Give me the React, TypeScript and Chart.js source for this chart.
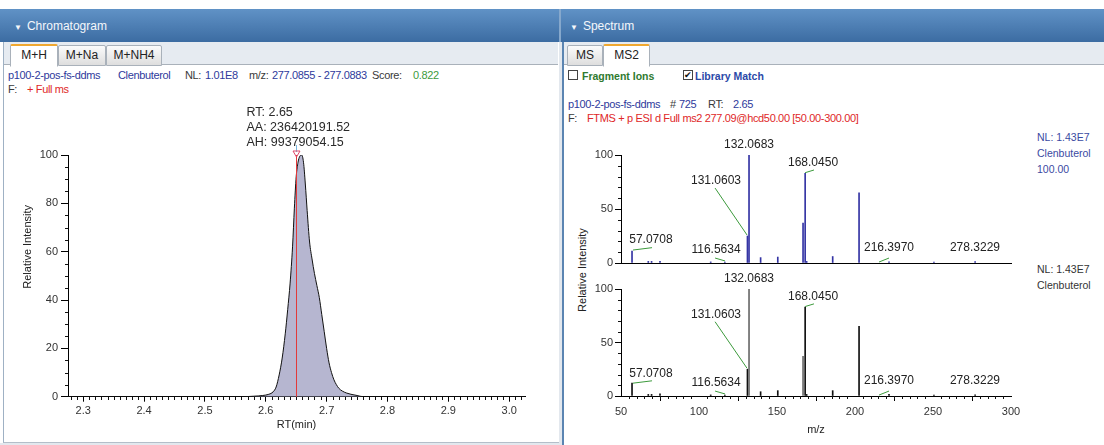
import React, { useEffect, useRef } from 'react';
import { Chart, registerables } from 'chart.js';

Chart.register(...registerables);

const FONT = 'Arial, "Liberation Sans", Helvetica, sans-serif';

// ---------- Chromatogram (XIC) ----------
const retentionTimes = [2.275, 2.40, 2.50, 2.56, 2.58, 2.595, 2.605, 2.612, 2.617, 2.622, 2.627, 2.632, 2.636, 2.640, 2.644, 2.647, 2.650, 2.653, 2.656, 2.659, 2.662, 2.665, 2.668, 2.672, 2.676, 2.680, 2.684, 2.688, 2.692, 2.696, 2.700, 2.704, 2.708, 2.712, 2.716, 2.720, 2.726, 2.733, 2.740, 2.750, 2.760, 2.80, 2.90, 3.026];
const relativeIntensity = [0, 0, 0, 0, 0.2, 0.5, 1.0, 2, 4, 9, 16, 26, 36, 47, 62, 78, 91, 97, 99.5, 100, 97, 88, 77, 64, 57, 51, 46, 41, 34, 27, 20, 14, 10, 7, 5, 3.5, 2.3, 1.5, 1, 0.5, 0, 0, 0, 0];
const rtTicks = [2.3, 2.4, 2.5, 2.6, 2.7, 2.8, 2.9, 3.0];
const chromYTicks = [0, 20, 40, 60, 80, 100];
const peakRT = 2.65;
const peakInfo = ['RT: 2.65', 'AA: 236420191.52', 'AH: 99379054.15'];

// ---------- Spectrum (MS2) ----------
const mzValues = [57.07, 67.5, 69.6, 75.0, 107.5, 116.56, 131.06, 132.07, 139.5, 150.5, 166.7, 168.05, 169.0, 185.7, 202.6, 221.8, 250.6, 277.0];
const measuredIntensity = [11, 1.5, 1.5, 1.5, 1, 0.8, 25, 100, 5, 5.5, 37, 83, 1.5, 6, 65, 1, 0.8, 1.2];
const libraryIntensity = [12, 1.5, 1.5, 2, 1, 0.8, 25, 100, 4, 5, 37, 83, 1.5, 5, 65, 1.5, 0.8, 1.2];
const mzTicks = [50, 100, 150, 200, 250, 300];
const specYTicks = [0, 50, 100];

const peakLabelText = ['57.0708', '116.5634', '131.0603', '132.0683', '168.0450', '216.3970', '278.3229'];
const labelMz = [69.2, 110.9, 110.9, 132.05, 173.1, 221.8, 276.9];
const labelIntensity = [21.3, 12, 75.9, 109.3, 92.6, 13.9, 13.9];
const leaderFromMz = [57.7, 110.3, 110.3, null, 168.0, 215.4, null];
const leaderFromInt = [12, 4.6, 69.4, null, 83.6, 0.9, null];
const leaderToMz = [69.9, 116.7, 130.8, null, 173.7, 221.8, null];
const leaderToInt = [14.2, 1.9, 25.9, null, 86.1, 4.6, null];

function range(from: number, to: number, step: number, skip: number, div: number) {
  const out: number[] = [];
  for (let i = from; i <= to; i += step) {
    if (i % skip !== 0) out.push(i / div);
  }
  return out;
}

function drawMinor(chart: any, xs: number[], ys: number[], len: number) {
  const ctx = chart.ctx;
  const area = chart.chartArea;
  const sx = chart.scales.x;
  const sy = chart.scales.y;
  ctx.save();
  ctx.fillStyle = '#111';
  for (const v of xs) {
    const px = Math.round(sx.getPixelForValue(v));
    ctx.fillRect(px, Math.round(area.bottom), 1, len);
  }
  for (const v of ys) {
    const py = Math.round(sy.getPixelForValue(v));
    ctx.fillRect(Math.round(area.left) - len, py, len, 1);
  }
  ctx.restore();
}

const tickFont = { family: FONT, size: 11 };

function axisBase(extra: any) {
  return {
    type: 'linear',
    grid: { display: true, drawOnChartArea: false, drawTicks: true, tickLength: 5, color: '#000' },
    border: { display: true, color: '#000', width: 1 },
    ticks: { font: tickFont, color: '#333', padding: 3, maxRotation: 0, autoSkip: false },
    ...extra,
  };
}

function spectrumPlugin(minorX: number[], minorY: number[]) {
  return {
    id: 'peakLabels',
    afterDatasetsDraw(chart: any) {
      const { ctx, scales } = chart;
      const { x, y } = scales;
      ctx.save();
      ctx.strokeStyle = '#3c9a3c';
      ctx.lineWidth = 1;
      leaderFromMz.forEach((m, i) => {
        if (m == null) return;
        ctx.beginPath();
        ctx.moveTo(x.getPixelForValue(m), y.getPixelForValue(leaderFromInt[i] as number));
        ctx.lineTo(x.getPixelForValue(leaderToMz[i] as number), y.getPixelForValue(leaderToInt[i] as number));
        ctx.stroke();
      });
      ctx.font = `12px ${FONT}`;
      ctx.fillStyle = '#222';
      ctx.textAlign = 'center';
      ctx.textBaseline = 'middle';
      peakLabelText.forEach((t, i) => {
        ctx.fillText(t, x.getPixelForValue(labelMz[i]), y.getPixelForValue(labelIntensity[i]));
      });
      ctx.restore();
    },
    afterDraw(chart: any) {
      drawMinor(chart, minorX, minorY, 3);
    },
  };
}

function Txt(props: { x: number; y: number; c?: string; s?: number; w?: any; children: any; ls?: number }) {
  const s = props.s ?? 11;
  return (
    <div
      style={{
        position: 'absolute',
        left: props.x,
        top: props.y - 7,
        height: 14,
        lineHeight: '14px',
        fontSize: s,
        color: props.c ?? '#333',
        fontWeight: props.w ?? 'normal',
        whiteSpace: 'nowrap',
        letterSpacing: props.ls ?? -0.35,
      }}
    >
      {props.children}
    </div>
  );
}

function Tab(props: { x: number; w: number; active?: boolean; label: string }) {
  return (
    <div
      style={{
        position: 'absolute',
        left: props.x,
        top: props.active ? 44 : 45,
        width: props.w - 2,
        height: props.active ? 20 : 19,
        background: props.active ? '#fff' : 'linear-gradient(#fbfbfb, #dedede)',
        border: '1px solid #a9b1ba',
        borderTop: props.active ? '2px solid #f0a830' : '1px solid #a9b1ba',
        borderBottom: props.active ? '1px solid #fff' : '1px solid #a9b1ba',
        borderRadius: '2px 2px 0 0',
        textAlign: 'center',
        lineHeight: '19px',
        fontSize: 12,
        color: '#222',
        zIndex: 2,
      }}
    >
      {props.label}
    </div>
  );
}

export default function App() {
  const chromRef = useRef<HTMLCanvasElement>(null);
  const upRef = useRef<HTMLCanvasElement>(null);
  const lowRef = useRef<HTMLCanvasElement>(null);

  useEffect(() => {
    document.body.style.margin = '0';
    const charts: Chart[] = [];

    const chromMinorX = range(228, 302, 1, 10, 100);
    const chromMinorY = range(5, 95, 5, 20, 1);
    charts.push(
      new Chart(chromRef.current as HTMLCanvasElement, {
        type: 'line',
        data: {
          datasets: [
            {
              data: retentionTimes.map((x, i) => ({ x, y: relativeIntensity[i] })),
              borderColor: '#111',
              borderWidth: 1,
              backgroundColor: 'rgba(176,176,204,0.92)',
              fill: 'origin',
              pointRadius: 0,
              cubicInterpolationMode: 'monotone',
            },
          ],
        },
        options: {
          animation: false,
          responsive: false,
          events: [],
          layout: { padding: { top: 55, right: 33, left: 0, bottom: 0 } },
          plugins: { legend: { display: false }, tooltip: { enabled: false } },
          scales: {
            x: axisBase({
              min: 2.275,
              max: 3.026,
              afterBuildTicks: (s: any) => { s.ticks = rtTicks.map((value) => ({ value })); },
              afterFit: (s: any) => { s.height = 43.3; },
              ticks: { font: tickFont, color: '#333', padding: 3, maxRotation: 0, autoSkip: false, callback: (v: any) => Number(v).toFixed(1) },
              title: { display: true, text: 'RT(min)', font: { family: FONT, size: 11 }, color: '#222', padding: { top: 0, bottom: 8 } },
            }),
            y: axisBase({
              min: 0,
              max: 100,
              afterBuildTicks: (s: any) => { s.ticks = chromYTicks.map((value) => ({ value })); },
              afterFit: (s: any) => { s.width = 68; },
              grid: { display: true, drawOnChartArea: false, drawTicks: true, tickLength: 7, color: '#000' },
              ticks: { font: tickFont, color: '#333', padding: 3 },
            }),
          },
        } as any,
        plugins: [
          {
            id: 'chromExtras',
            afterDatasetsDraw(chart: any) {
              const { ctx, chartArea, scales } = chart;
              const px = Math.round(scales.x.getPixelForValue(peakRT)) + 0.5;
              const top = scales.y.getPixelForValue(100);
              ctx.save();
              ctx.strokeStyle = '#e23a3a';
              ctx.lineWidth = 1;
              ctx.beginPath();
              ctx.moveTo(px, chartArea.bottom);
              ctx.lineTo(px, top);
              ctx.stroke();
              ctx.strokeStyle = '#7ab8e0';
              ctx.beginPath();
              ctx.moveTo(px, top - 10);
              ctx.lineTo(px, top - 3);
              ctx.stroke();
              ctx.strokeStyle = '#e04a6a';
              ctx.beginPath();
              ctx.moveTo(px - 3.5, top - 4);
              ctx.lineTo(px + 3.5, top - 4);
              ctx.lineTo(px, top + 2);
              ctx.closePath();
              ctx.stroke();
              ctx.font = `12.5px ${FONT}`;
              ctx.fillStyle = '#2a2a2a';
              ctx.textAlign = 'left';
              ctx.textBaseline = 'middle';
              const offs = [-42, -27, -12];
              peakInfo.forEach((t, i) => ctx.fillText(t, px - 50, top + offs[i]));
              ctx.translate(28, (chartArea.top + chartArea.bottom) / 2 - 29);
              ctx.rotate(-Math.PI / 2);
              ctx.font = `11px ${FONT}`;
              ctx.fillStyle = '#222';
              ctx.textAlign = 'center';
              ctx.fillText('Relative Intensity', 0, 0);
              ctx.restore();
            },
            afterDraw(chart: any) {
              drawMinor(chart, chromMinorX, chromMinorY, 3);
            },
          },
        ],
      })
    );

    const specMinorY = range(10, 90, 10, 50, 1);
    const specMinorX = range(55, 295, 5, 50, 1);

    const specOptions = (lower: boolean) => ({
      animation: false,
      responsive: false,
      events: [],
      layout: { padding: { top: 25, right: 93, left: 0, bottom: 0 } },
      plugins: { legend: { display: false }, tooltip: { enabled: false } },
      scales: {
        x: axisBase({
          min: 50,
          max: 300,
          offset: false,
          afterBuildTicks: (s: any) => { s.ticks = mzTicks.map((value) => ({ value })); },
          afterFit: (s: any) => { s.height = lower ? 49 : 12; },
          grid: { display: lower, drawOnChartArea: false, drawTicks: true, tickLength: 5, color: '#000' },
          ticks: { display: lower, font: tickFont, color: '#333', padding: 4, maxRotation: 0, autoSkip: false },
          title: { display: lower, text: 'm/z', font: { family: FONT, size: 11 }, color: '#222', padding: { top: 0, bottom: 8 } },
        }),
        y: axisBase({
          min: 0,
          max: 100,
          afterBuildTicks: (s: any) => { s.ticks = specYTicks.map((value) => ({ value })); },
          afterFit: (s: any) => { s.width = 59; },
          grid: { display: true, drawOnChartArea: false, drawTicks: true, tickLength: 6, color: '#000' },
          ticks: { font: tickFont, color: '#333', padding: 2 },
        }),
      },
    });

    charts.push(
      new Chart(upRef.current as HTMLCanvasElement, {
        type: 'bar',
        data: {
          datasets: [
            {
              data: mzValues.map((x, i) => ({ x, y: measuredIntensity[i] })),
              backgroundColor: '#3434a4',
              barThickness: 1,
            },
          ],
        },
        options: specOptions(false) as any,
        plugins: [spectrumPlugin([], specMinorY)],
      })
    );

    charts.push(
      new Chart(lowRef.current as HTMLCanvasElement, {
        type: 'bar',
        data: {
          datasets: [
            {
              data: mzValues.map((x, i) => ({ x, y: libraryIntensity[i] })),
              backgroundColor: (c: any) => (c.raw && (c.raw.x === 132.07 || c.raw.x === 166.7) ? '#6a6a6a' : '#111'),
              barThickness: 1,
            },
          ],
        },
        options: specOptions(true) as any,
        plugins: [spectrumPlugin(specMinorX, specMinorY)],
      })
    );

    return () => charts.forEach((c) => c.destroy());
  }, []);

  const blue = '#2e3a9c';
  const dark = '#3a3a3a';

  return (
    <div style={{ position: 'fixed', left: 0, top: 0, width: 1104, height: 445, background: '#fff', overflow: 'hidden', fontFamily: FONT }}>
      <div style={{ position: 'absolute', left: 0, top: 9, width: 1104, height: 33, background: 'linear-gradient(#6092c6, #3c6ca2)' }} />
      <div style={{ position: 'absolute', left: 559, top: 9, width: 2, height: 33, background: '#86a8cc' }} />
      <div style={{ position: 'absolute', left: 14, top: 18, color: '#f4f7fb', fontSize: 12, lineHeight: '16px' }}>
        <span style={{ fontSize: 8, marginRight: 5 }}>▼</span>Chromatogram
      </div>
      <div style={{ position: 'absolute', left: 570, top: 18, color: '#f4f7fb', fontSize: 12, lineHeight: '16px' }}>
        <span style={{ fontSize: 8, marginRight: 5 }}>▼</span>Spectrum
      </div>

      <div style={{ position: 'absolute', left: 3, top: 42, width: 555, height: 400, borderLeft: '1px solid #9fb1c4', borderRight: '1px solid #b4bec9', borderBottom: '1px solid #b4bec9' }} />
      <div style={{ position: 'absolute', left: 559, top: 42, width: 3, height: 403, background: '#e3e8ee' }} />
      <div style={{ position: 'absolute', left: 562, top: 42, width: 2, height: 403, background: '#5b85b2' }} />
      <div style={{ position: 'absolute', left: 0, top: 443, width: 559, height: 2, background: '#e3e8ee' }} />

      <div style={{ position: 'absolute', left: 4, top: 42, width: 554, height: 22, background: '#e6ebf1', borderBottom: '1px solid #a9b1ba' }} />
      <div style={{ position: 'absolute', left: 564, top: 42, width: 540, height: 22, background: '#e6ebf1', borderBottom: '1px solid #a9b1ba' }} />
      <Tab x={10} w={48} active label="M+H" />
      <Tab x={58} w={48} label="M+Na" />
      <Tab x={106} w={56} label="M+NH4" />
      <Tab x={567} w={36} label="MS" />
      <Tab x={603} w={47} active label="MS2" />

      <Txt x={8} y={75} c={blue}>p100-2-pos-fs-ddms</Txt>
      <Txt x={118} y={75} c={blue}>Clenbuterol</Txt>
      <Txt x={185} y={75} c={dark}>NL:</Txt>
      <Txt x={205} y={75} c={blue}>1.01E8</Txt>
      <Txt x={249} y={75} c={dark}>m/z:</Txt>
      <Txt x={272} y={75} c={blue}>277.0855 - 277.0883</Txt>
      <Txt x={372} y={75} c={dark}>Score:</Txt>
      <Txt x={413} y={75} c="#3d9a3d">0.822</Txt>
      <Txt x={8} y={89} c={dark}>F:</Txt>
      <Txt x={27} y={89} c="#e02828">+ Full ms</Txt>

      <div style={{ position: 'absolute', left: 568, top: 70, width: 8, height: 8, border: '1px solid #444', background: '#fff' }} />
      <Txt x={582} y={76} c="#2f7a2f" w="bold" s={10.5} ls={0}>Fragment Ions</Txt>
      <div style={{ position: 'absolute', left: 683, top: 70, width: 8, height: 8, border: '1px solid #444', background: '#fff', fontSize: 9, lineHeight: '8px', textAlign: 'center', color: '#111' }}>✔</div>
      <Txt x={695} y={76} c="#2b49a8" w="bold" s={10.5} ls={0}>Library Match</Txt>
      <Txt x={568} y={104} c={blue}>p100-2-pos-fs-ddms</Txt>
      <Txt x={670} y={104} c={dark}>#</Txt>
      <Txt x={679} y={104} c={blue}>725</Txt>
      <Txt x={708} y={104} c={dark}>RT:</Txt>
      <Txt x={733} y={104} c={blue}>2.65</Txt>
      <Txt x={568} y={118} c={dark}>F:</Txt>
      <Txt x={587} y={118} c="#e02828">FTMS + p ESI d Full ms2 277.09@hcd50.00 [50.00-300.00]</Txt>

      <Txt x={1037} y={137} c="#3a4aa2" s={10.5} ls={0}>NL: 1.43E7</Txt>
      <Txt x={1037} y={153} c="#3a4aa2" s={10.5} ls={0}>Clenbuterol</Txt>
      <Txt x={1037} y={169} c="#3a4aa2" s={10.5} ls={0}>100.00</Txt>
      <Txt x={1037} y={269} c="#333" s={10.5} ls={0}>NL: 1.43E7</Txt>
      <Txt x={1037} y={285} c="#333" s={10.5} ls={0}>Clenbuterol</Txt>

      <div style={{ position: 'absolute', left: 522, top: 263, width: 120, height: 14, lineHeight: '14px', textAlign: 'center', fontSize: 11, color: '#222', transform: 'rotate(-90deg)' }}>
        Relative Intensity
      </div>

      <canvas ref={chromRef} width={558} height={340} style={{ position: 'absolute', left: 0, top: 100, width: 558, height: 340 }} />
      <canvas ref={upRef} width={542} height={145} style={{ position: 'absolute', left: 562, top: 130, width: 542, height: 145 }} />
      <canvas ref={lowRef} width={542} height={181} style={{ position: 'absolute', left: 562, top: 264, width: 542, height: 181 }} />
    </div>
  );
}
